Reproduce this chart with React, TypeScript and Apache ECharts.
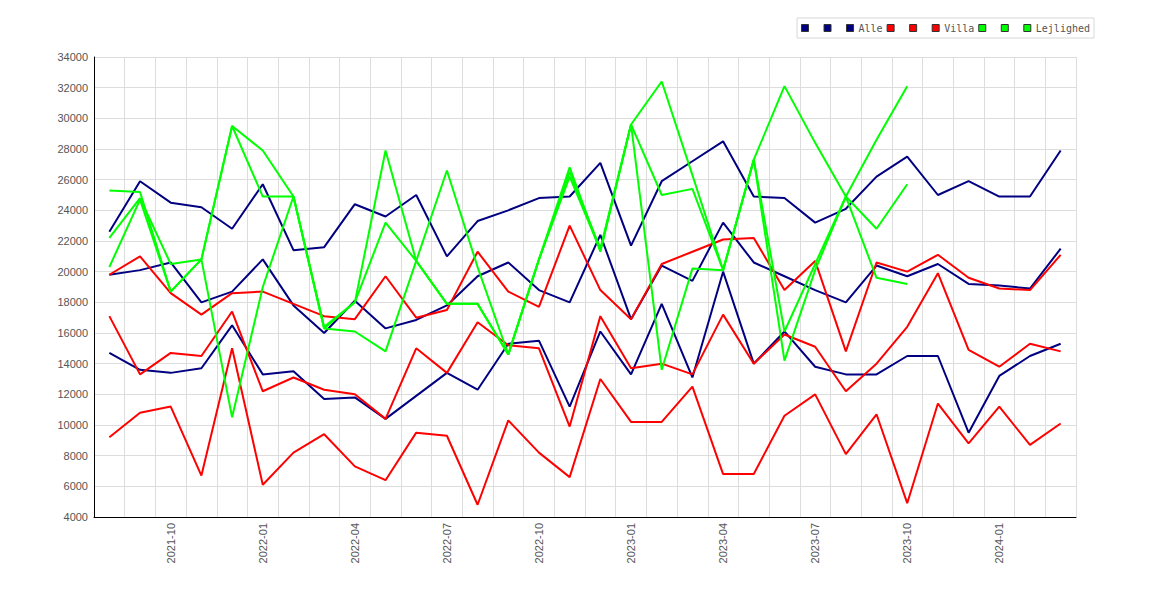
import React, { useEffect, useRef } from "react";
import * as echarts from "echarts";

const months = [
  "2021-08", "2021-09", "2021-10", "2021-11", "2021-12",
  "2022-01", "2022-02", "2022-03", "2022-04", "2022-05", "2022-06", "2022-07", "2022-08", "2022-09", "2022-10", "2022-11", "2022-12",
  "2023-01", "2023-02", "2023-03", "2023-04", "2023-05", "2023-06", "2023-07", "2023-08", "2023-09", "2023-10", "2023-11", "2023-12",
  "2024-01", "2024-02", "2024-03",
];

const yTicks = { min: 4000, max: 34000, step: 2000 };

// Alle (navy)
const alleHigh = [22600, 25900, 24500, 24200, 22800, 25700, 21400, 21600, 24400, 23600, 25000, 21000, 23300, 24000, 24800, 24900, 27100, 21700, 25900, 27200, 28500, 24900, 24800, 23200, 24100, 26200, 27500, 25000, 25900, 24900, 24900, 27900];
const alleMid = [19800, 20100, 20600, 18000, 18700, 20800, 17800, 16000, 18100, 16300, 16850, 17800, 19700, 20600, 18800, 18000, 22400, 16900, 20400, 19400, 23200, 20600, 19700, 18800, 18000, 20400, 19700, 20500, 19200, 19100, 18900, 21500];
const alleLow = [14700, 13600, 13400, 13700, 16500, 13300, 13500, 11700, 11800, 10400, 11900, 13400, 12300, 15300, 15500, 11200, 16100, 13300, 17900, 13100, 20000, 14000, 16100, 13800, 13300, 13300, 14500, 14500, 9500, 13200, 14500, 15300];

// Villa (red)
const villaHigh = [19800, 21000, 18600, 17200, 18600, 18700, 17900, 17100, 16900, 19700, 17000, 17500, 21300, 18700, 17700, 23000, 18800, 16900, 20500, 21300, 22100, 22200, 18800, 20700, 14800, 20600, 20000, 21100, 19600, 18900, 18800, 21100];
const villaMid = [17100, 13300, 14700, 14500, 17400, 12200, 13100, 12300, 12000, 10400, 15000, 13400, 16700, 15200, 15000, 9900, 17100, 13700, 14000, 13300, 17200, 14000, 15900, 15100, 12200, 14000, 16400, 19900, 14900, 13800, 15300, 14800];
const villaLow = [9200, 10800, 11200, 6700, 15000, 6100, 8200, 9400, 7300, 6400, 9500, 9300, 4800, 10300, 8200, 6600, 13000, 10200, 10200, 12500, 6800, 6800, 10600, 12000, 8100, 10700, 4900, 11400, 8800, 11200, 8700, 10100];

// Lejlighed (green)
const lejA = [25300, 25200, 18700, 20800, 29500, 27900, 24900, 16400, 18000, 27900, 20700, 17900, 17900, 14600, 20800, 26800, 21300, 29600, 32400, 26300, 20100, 27300, 32100, 28400, 24900, 28600, 32100, null, null, null, null, null];
const lejB = [22200, 24800, 20500, 20800, 29500, 24900, 24900, 16300, 18000, 23200, 20700, 17900, 17900, 14600, 20800, 26500, 21500, 29600, 25000, 25400, 20100, 27300, 16100, 20500, 24900, 22800, 25700, null, null, null, null, null];
const lejC = [20300, 24700, 18700, 20800, 10500, 19000, 24900, 16300, 16100, 14800, 20700, 26600, 20300, 14600, 20800, 26200, 21400, 29600, 13600, 20200, 20100, 27300, 14200, 20100, 24900, 19600, 19200, null, null, null, null, null];

const NAVY = "#000080";
const RED = "#ff0000";
const GREEN = "#00ff00";

const seriesDefs = [
  { name: "Alle-1", color: NAVY, data: alleHigh },
  { name: "Alle-2", color: NAVY, data: alleMid },
  { name: "Alle", color: NAVY, data: alleLow },
  { name: "Villa-1", color: RED, data: villaHigh },
  { name: "Villa-2", color: RED, data: villaMid },
  { name: "Villa", color: RED, data: villaLow },
  { name: "Lejlighed-1", color: GREEN, data: lejA },
  { name: "Lejlighed-2", color: GREEN, data: lejB },
  { name: "Lejlighed", color: GREEN, data: lejC },
];

export default function App() {
  const ref = useRef<HTMLDivElement>(null);

  useEffect(() => {
    if (!ref.current) return;
    const chart = echarts.init(ref.current, null, { renderer: "svg" });
    chart.setOption({
      animation: false,
      backgroundColor: "#ffffff",
      grid: { left: 94, right: 94, top: 57, bottom: 83, containLabel: false },
      legend: {
        left: 797,
        top: 18,
        icon: "rect",
        itemWidth: 7,
        itemHeight: 7,
        itemGap: 4,
        padding: [3, 4],
        borderColor: "#d8d8d8",
        borderWidth: 1,
        selectedMode: false,
        itemStyle: { borderColor: "#333333", borderWidth: 1 },
        textStyle: {
          fontFamily: "DejaVu Sans Mono",
          fontSize: 10,
          color: "#555555",
          lineHeight: 14,
        },
        formatter: (name: string) => (name.indexOf("-") >= 0 ? " " : name),
        data: seriesDefs.map((s) => s.name),
      },
      xAxis: {
        type: "category",
        boundaryGap: true,
        data: months,
        axisLine: { show: true, lineStyle: { color: "#000000", width: 1 } },
        axisTick: { show: false },
        axisLabel: {
          interval: (index: number) => index % 3 === 2,
          rotate: 90,
          margin: 6,
          color: "#555555",
          fontFamily: "Liberation Sans",
          fontSize: 11,
        },
        splitLine: { show: true, interval: 0, lineStyle: { color: "#dddddd", width: 1 } },
      },
      yAxis: {
        type: "value",
        min: yTicks.min,
        max: yTicks.max,
        interval: yTicks.step,
        axisLine: { show: true, lineStyle: { color: "#000000", width: 1 } },
        axisTick: { show: false },
        axisLabel: {
          margin: 6,
          color: "#555555",
          fontFamily: "Liberation Sans",
          fontSize: 11,
          formatter: (v: number) => String(v),
        },
        splitLine: { show: true, lineStyle: { color: "#dddddd", width: 1 } },
      },
      series: seriesDefs.map((s) => ({
        name: s.name,
        type: "line",
        data: s.data,
        symbol: "none",
        showSymbol: false,
        color: s.color,
        lineStyle: { color: s.color, width: 2 },
        emphasis: { disabled: true },
      })),
    });
    return () => chart.dispose();
  }, []);

  return (
    <div
      ref={ref}
      style={{ position: "fixed", left: 0, top: 0, width: 1170, height: 600, background: "#fff" }}
    />
  );
}
